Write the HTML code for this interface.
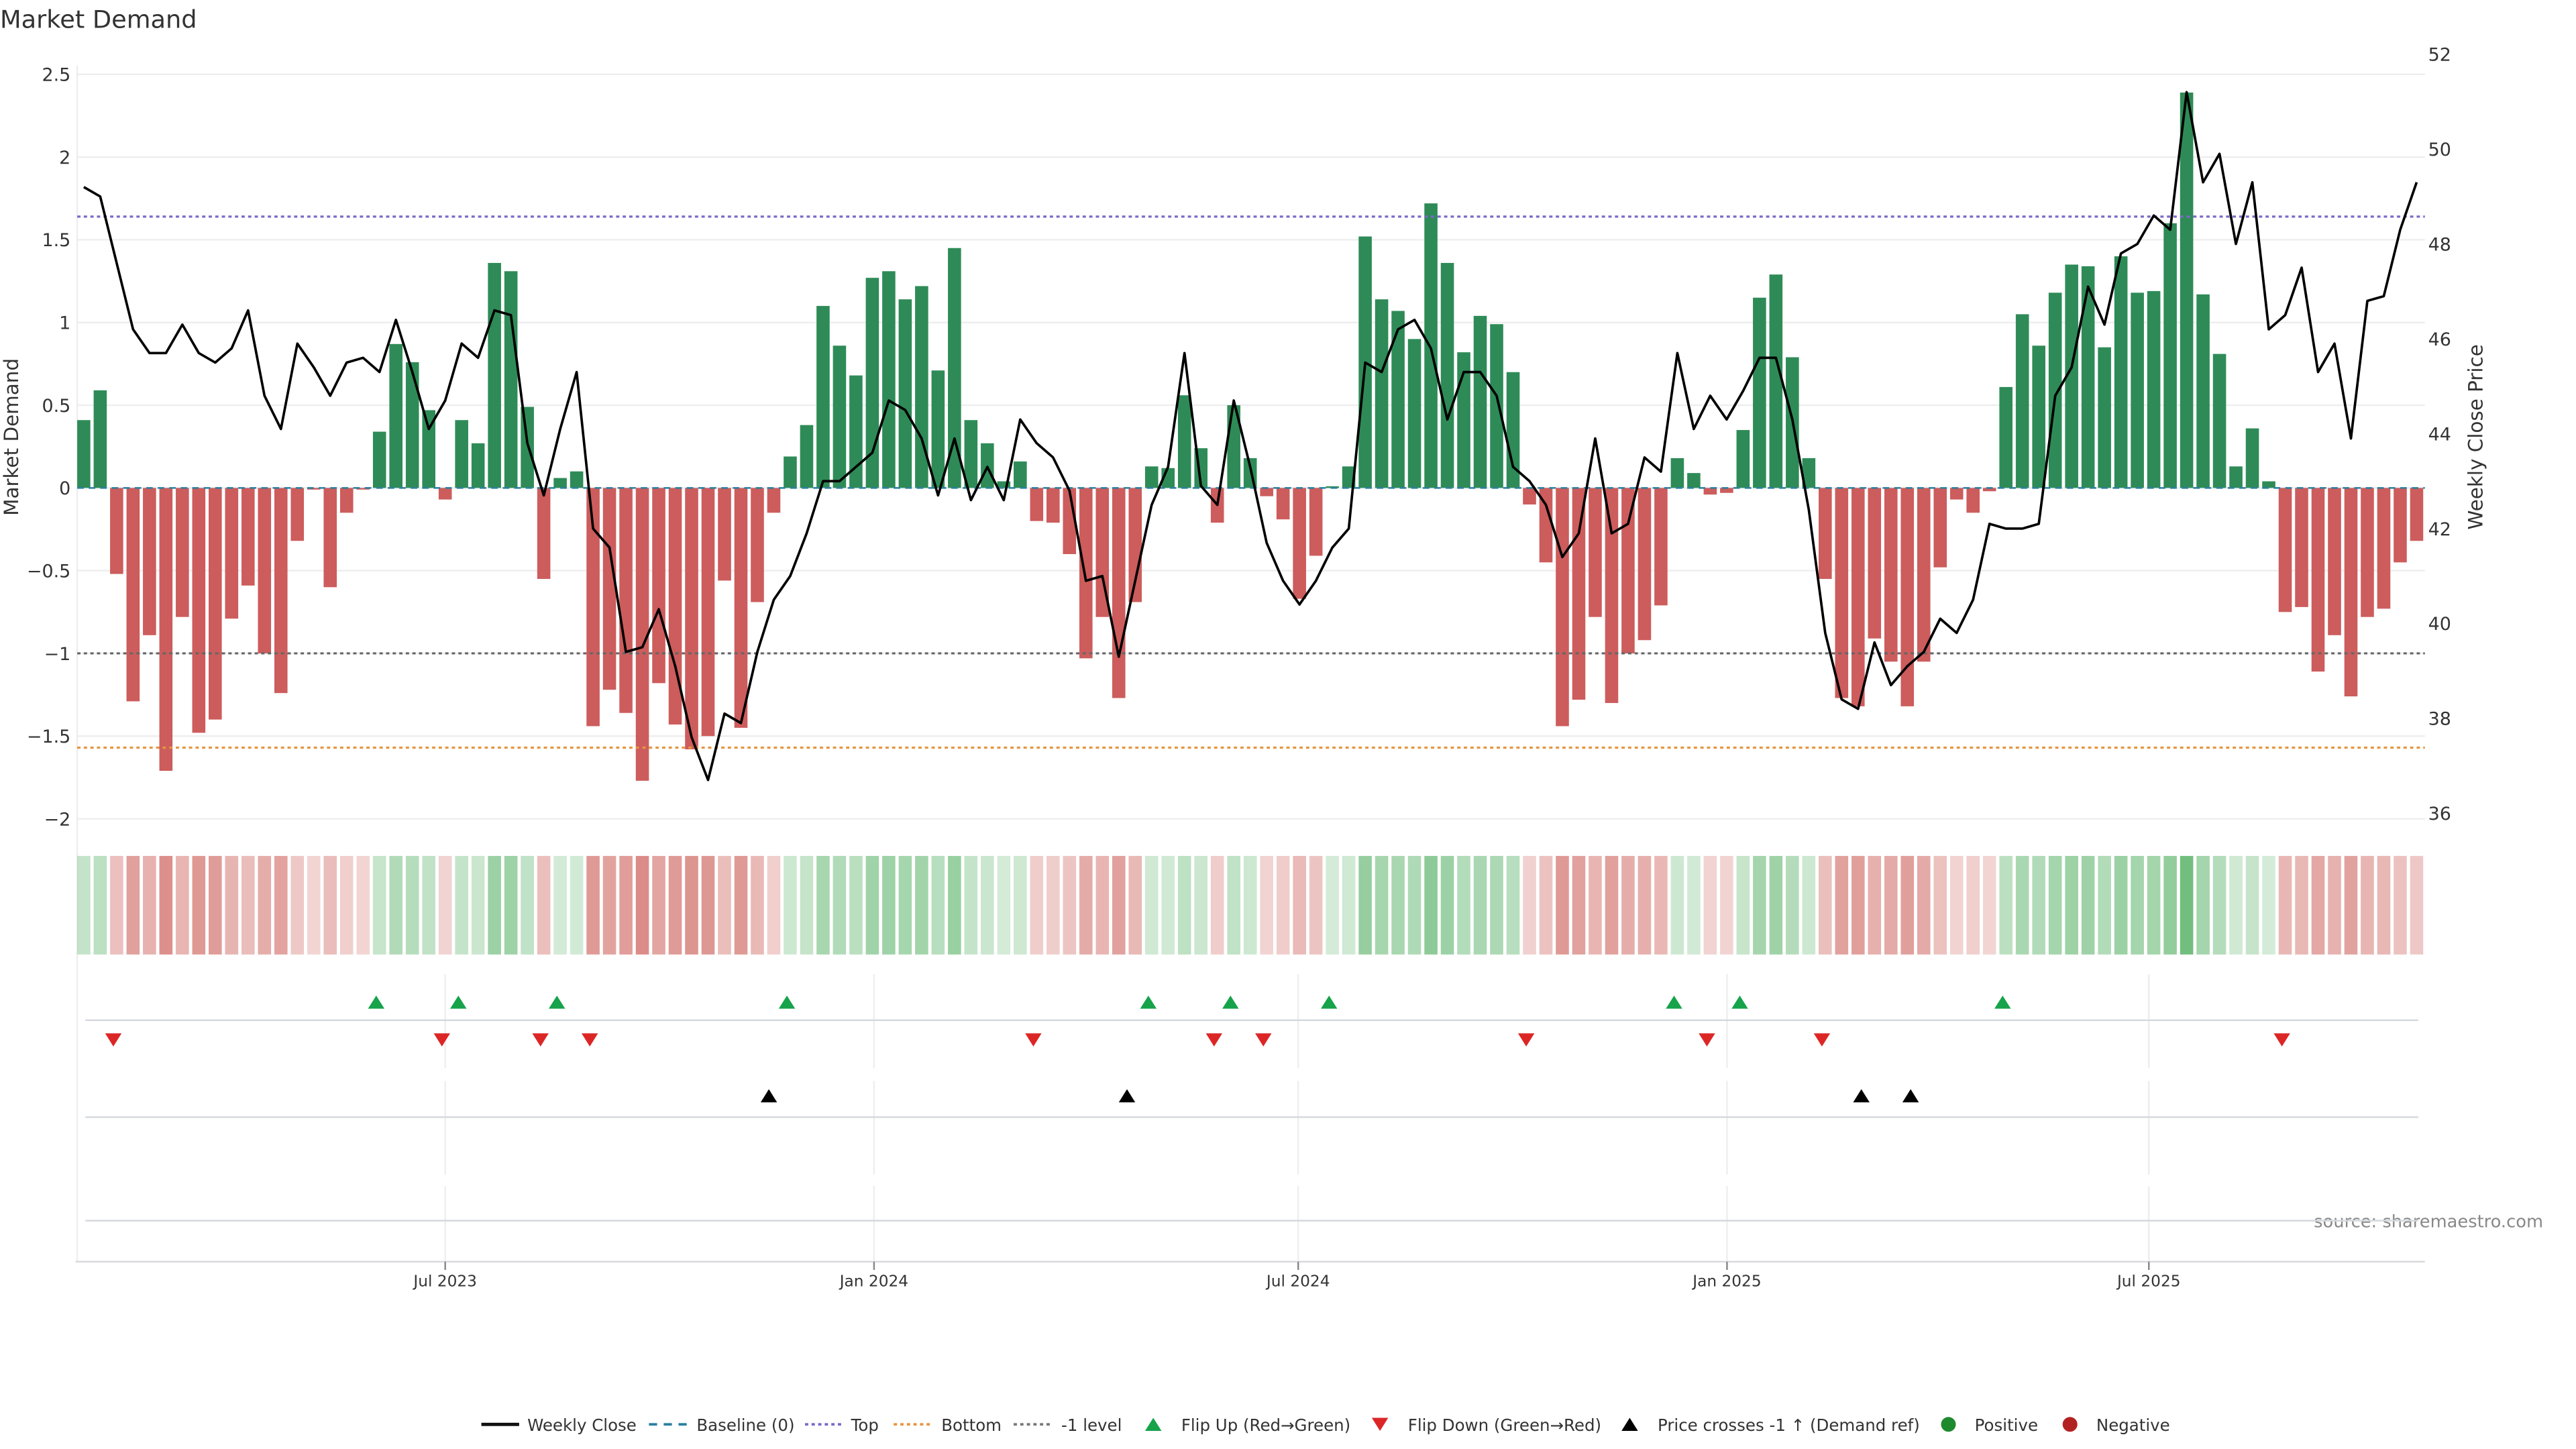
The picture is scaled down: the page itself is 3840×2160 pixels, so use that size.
<!DOCTYPE html>
<html><head><meta charset="utf-8"><title>Market Demand</title>
<style>html,body{margin:0;padding:0;background:#fff}svg{display:block;font-family:"DejaVu Sans","Liberation Sans",sans-serif}</style></head>
<body>
<svg id="chart" width="3840" height="2160" viewBox="0 0 1568 882" xmlns="http://www.w3.org/2000/svg">
<text x="0" y="17" font-size="15" fill="#333">Market Demand</text>
<text transform="translate(11,266) rotate(-90)" text-anchor="middle" font-size="12" fill="#333">Market Demand</text>
<text transform="translate(1511,266) rotate(-90)" text-anchor="middle" font-size="12" fill="#333">Weekly Close Price</text>
<text x="1548" y="747" text-anchor="end" font-size="10.5" fill="#888">source: sharemaestro.com</text>
<g id="grid"></g><g id="bars"></g><g id="levels"></g><g id="price"></g><g id="strip"></g><g id="panels"></g><g id="axes"></g><g id="legend"></g>
</svg>
<script>
const demand=[0.41,0.59,-0.52,-1.29,-0.89,-1.71,-0.78,-1.48,-1.40,-0.79,-0.59,-1.0,-1.24,-0.32,-0.01,-0.6,-0.15,-0.01,0.34,0.87,0.76,0.47,-0.07,0.41,0.27,1.36,1.31,0.49,-0.55,0.06,0.10,-1.44,-1.22,-1.36,-1.77,-1.18,-1.43,-1.58,-1.50,-0.56,-1.45,-0.69,-0.15,0.19,0.38,1.10,0.86,0.68,1.27,1.31,1.14,1.22,0.71,1.45,0.41,0.27,0.04,0.16,-0.2,-0.21,-0.4,-1.03,-0.78,-1.27,-0.69,0.13,0.12,0.56,0.24,-0.21,0.5,0.18,-0.05,-0.19,-0.67,-0.41,0.01,0.13,1.52,1.14,1.07,0.9,1.72,1.36,0.82,1.04,0.99,0.70,-0.1,-0.45,-1.44,-1.28,-0.78,-1.3,-1.0,-0.92,-0.71,0.18,0.09,-0.04,-0.03,0.35,1.15,1.29,0.79,0.18,-0.55,-1.27,-1.32,-0.91,-1.05,-1.32,-1.05,-0.48,-0.07,-0.15,-0.02,0.61,1.05,0.86,1.18,1.35,1.34,0.85,1.40,1.18,1.19,1.60,2.39,1.17,0.81,0.13,0.36,0.04,-0.75,-0.72,-1.11,-0.89,-1.26,-0.78,-0.73,-0.45,-0.32];
const weeklyClose=[49.2,49.0,47.6,46.2,45.7,45.7,46.3,45.7,45.5,45.8,46.6,44.8,44.1,45.9,45.4,44.8,45.5,45.6,45.3,46.4,45.3,44.1,44.7,45.9,45.6,46.6,46.5,43.8,42.7,44.1,45.3,42.0,41.6,39.4,39.5,40.3,39.1,37.6,36.7,38.1,37.9,39.4,40.5,41.0,41.9,43.0,43.0,43.3,43.6,44.7,44.5,43.9,42.7,43.9,42.6,43.3,42.6,44.3,43.8,43.5,42.8,40.9,41.0,39.3,40.9,42.5,43.3,45.7,42.9,42.5,44.7,43.3,41.7,40.9,40.4,40.9,41.6,42.0,45.5,45.3,46.2,46.4,45.8,44.3,45.3,45.3,44.8,43.3,43.0,42.5,41.4,41.9,43.9,41.9,42.1,43.5,43.2,45.7,44.1,44.8,44.3,44.9,45.6,45.6,44.3,42.4,39.8,38.4,38.2,39.6,38.7,39.1,39.4,40.1,39.8,40.5,42.1,42.0,42.0,42.1,44.8,45.4,47.1,46.3,47.8,48.0,48.6,48.3,51.2,49.3,49.9,48.0,49.3,46.2,46.5,47.5,45.3,45.9,43.9,46.8,46.9,48.3,49.3];
const crossIdx=[41.7,63.5,108.2,111.2];
const levelValues=[1.64,-1.57,-1.0];
const leftTicks=[2.5,2,1.5,1,0.5,0,-0.5,-1,-1.5,-2];
const rightTicks=[36,38,40,42,44,46,48,50,52];
const xTickLabels=["Jul 2023","Jan 2024","Jul 2024","Jan 2025","Jul 2025"];
const xTickDates=["2023-07-01","2024-01-01","2024-07-01","2025-01-01","2025-07-01"];
const refDate="2023-07-01";

const NS="http://www.w3.org/2000/svg";
function mk(parent,tag,attrs){const e=document.createElementNS(NS,tag);for(const k in attrs)e.setAttribute(k,attrs[k]);document.getElementById(parent).appendChild(e);return e;}
const X=i=>51+10*i;
const XD=d=>271+1.4186*((new Date(d)-new Date(refDate))/864e5);
const Y=v=>297-100.7*v;
const YP=p=>33+(52-p)*28.875;
const maxAbs=Math.max(...demand.map(Math.abs));

leftTicks.forEach(t=>{
  const g=mk('grid','line',{x1:47,x2:1476,y1:Y(t),y2:Y(t),stroke:'#eeeeee','stroke-width':1});
  
  
  const tx=mk('axes','text',{x:43,y:Y(t)+4,'text-anchor':'end','font-size':11,fill:'#333'});
  
  
  tx.textContent=(t<0?'\u2212'+(-t):String(t));
});
rightTicks.forEach(t=>{
  const tx=mk('axes','text',{x:1478,y:YP(t)+4,'font-size':11,fill:'#333'});
  
  
  tx.textContent=t;
});
const la=mk('grid','line',{x1:47,x2:47,y1:40,y2:768,stroke:'#eeeeee'});



demand.forEach((v,i)=>{
  const r=mk('bars','rect',{x:X(i)-4,width:8,y:Math.min(Y(v),Y(0)),height:Math.max(Math.abs(Y(v)-Y(0)),0.3),fill:v>=0?'#2e8b57':'#cd5c5c'});
  
  
});
const bl=mk('levels','line',{x1:47,x2:1476,y1:Y(0),y2:Y(0),stroke:'#2a7fa0','stroke-width':1,'stroke-dasharray':'4,3'});


const lvColors=['#7b68c8','#e69540','#666666'];
const lvNames=['top-level-line','bottom-level-line','minus-one-level-line'];
levelValues.forEach((v,k)=>{
  const l=mk('levels','line',{x1:47,x2:1476,y1:Y(v),y2:Y(v),stroke:lvColors[k],'stroke-width':1.3,'stroke-dasharray':'2,2'});
  
  
});
const pl=mk('price','polyline',{points:weeklyClose.map((p,i)=>X(i)+','+YP(p)).join(' '),fill:'none',stroke:'#000','stroke-width':1.5,'stroke-linejoin':'round'});



demand.forEach((v,i)=>{
  const a=0.3+0.7*Math.abs(v)/maxAbs;
  const r=mk('strip','rect',{x:X(i)-4,width:8,y:521,height:60,fill:v>=0?'#43a853':'#c4453d','fill-opacity':(a*0.75).toFixed(3)});
  
  
});

[621,680,743].forEach(y=>{
  const l=mk('panels','line',{x1:52,x2:1472,y1:y,y2:y,stroke:'#d5d8dc','stroke-width':1});
  
  
});
const xa=mk('axes','line',{x1:46,x2:1476,y1:768,y2:768,stroke:'#d5d8dc','stroke-width':1});


xTickDates.forEach((d,k)=>{
  const x=XD(d);
  [[593,650],[658,715],[722,768]].forEach(s=>{
    const g=mk('grid','line',{x1:x,x2:x,y1:s[0],y2:s[1],stroke:'#eeeeee'});
    
    
  });
  const t=mk('axes','line',{x1:x,x2:x,y1:768,y2:773,stroke:'#888'});
  
  
  const tx=mk('axes','text',{x:x,y:783,'text-anchor':'middle','font-size':9.5,fill:'#333'});
  
  
  tx.textContent=xTickLabels[k];
});
function tri(parent,cx,cy,up,col,name){
  const p=up?`${cx-5},${cy+4} ${cx+5},${cy+4} ${cx},${cy-4}`:`${cx-5},${cy-4} ${cx+5},${cy-4} ${cx},${cy+4}`;
  const e=mk(parent,'polygon',{points:p,fill:col});
  
  
}
for(let i=1;i<demand.length;i++){
  if(demand[i-1]<0&&demand[i]>=0)tri('panels',X(i)-2,610,true,'#16a34a','flip-up-marker');
  if(demand[i-1]>=0&&demand[i]<0)tri('panels',X(i)-2,633,false,'#dc2626','flip-down-marker');
}
crossIdx.forEach(i=>tri('panels',X(i),667,true,'#000','price-cross-marker'));

function ltext(x,s,name){const t=mk('legend','text',{x:x,y:871,'font-size':10,fill:'#333'});t.textContent=s;}
function lline(x1,col,dash,w,name){const l=mk('legend','line',{x1:x1,x2:x1+23,y1:867,y2:867,stroke:col,'stroke-width':w,'stroke-dasharray':dash});}
lline(293,'#111','none',2,'legend-weekly-close-swatch');ltext(321,'Weekly Close','legend-weekly-close');
lline(395,'#2a7fa0','5,4',1.5,'legend-baseline-swatch');ltext(424,'Baseline (0)','legend-baseline');
lline(490,'#7b68c8','2,2',1.5,'legend-top-swatch');ltext(518,'Top','legend-top');
lline(544,'#e69540','2,2',1.5,'legend-bottom-swatch');ltext(573,'Bottom','legend-bottom');
lline(617,'#777','2,2',1.5,'legend-minus-one-swatch');ltext(646,'-1 level','legend-minus-one');
tri('legend',702,867,true,'#16a34a','legend-flip-up-swatch');ltext(719,'Flip Up (Red\u2192Green)','legend-flip-up');
tri('legend',840,867,false,'#dc2626','legend-flip-down-swatch');ltext(857,'Flip Down (Green\u2192Red)','legend-flip-down');
tri('legend',992,867,true,'#000','legend-price-cross-swatch');ltext(1009,'Price crosses -1 \u2191 (Demand ref)','legend-price-cross');
const c1=mk('legend','circle',{cx:1186,cy:867,r:4.5,fill:'#1e8a2e'});ltext(1202,'Positive','legend-positive');
const c2=mk('legend','circle',{cx:1260,cy:867,r:4.5,fill:'#b22222'});ltext(1276,'Negative','legend-negative');
</script>
</body></html>
